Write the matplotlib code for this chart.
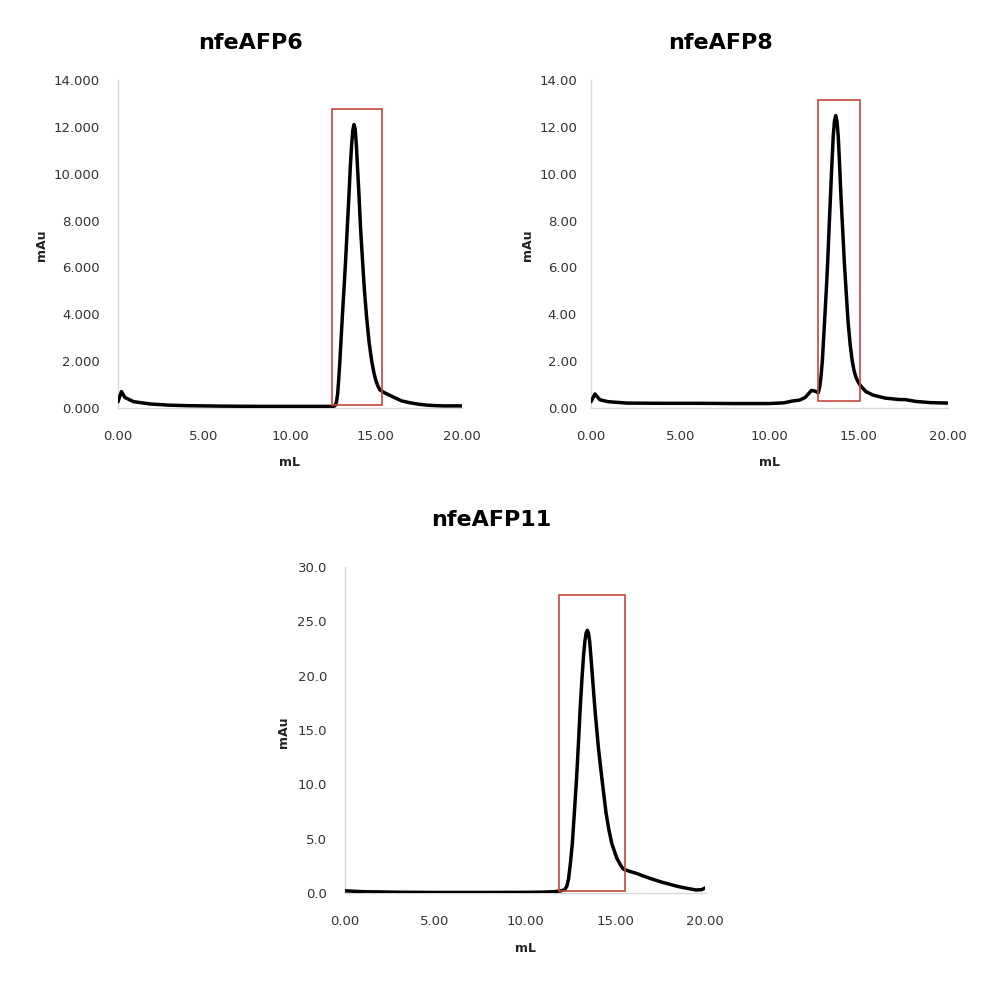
import matplotlib
matplotlib.use('Agg')
import matplotlib.pyplot as plt
from matplotlib.patches import Rectangle
from matplotlib.ticker import FormatStrFormatter

# nfeAFP6 trace (mL, mAu)
x6 = [0.0, 0.2, 0.4, 0.9, 1.9, 3.0, 4.0, 6.0, 8.0, 10.0, 12.0, 12.5, 12.62, 12.7, 12.77, 12.83,
      12.9, 13.05, 13.14, 13.23, 13.33, 13.43, 13.5, 13.58, 13.65, 13.72, 13.79, 13.86, 13.93,
      14.01, 14.1, 14.22, 14.33, 14.45, 14.6, 14.75, 14.88, 15.0, 15.12, 15.23, 15.5, 16.0,
      16.5, 17.0, 17.5, 18.0, 18.5, 19.0, 20.0]
y6 = [0.27, 0.70, 0.45, 0.27, 0.17, 0.12, 0.10, 0.08, 0.07, 0.07, 0.07, 0.07, 0.10, 0.25, 0.6, 1.2,
      2.0, 4.0, 5.1, 6.25, 7.7, 9.1, 10.2, 11.2, 11.85, 12.1, 11.9, 11.2, 10.2,
      9.1, 7.7, 6.25, 5.0, 3.9, 2.8, 2.0, 1.5, 1.15, 0.92, 0.77, 0.65, 0.47,
      0.3, 0.22, 0.16, 0.12, 0.1, 0.09, 0.09]

# nfeAFP8 trace
x8 = [0.0, 0.22, 0.5, 0.95, 2.0, 4.0, 6.0, 8.0, 10.0, 10.8, 11.3, 11.7, 12.0, 12.2, 12.35, 12.55,
      12.73, 12.8, 12.88, 12.96, 13.1, 13.18, 13.26, 13.34, 13.42, 13.5, 13.57, 13.64, 13.71,
      13.78, 13.85, 13.92, 14.0, 14.1, 14.19, 14.3, 14.4, 14.52, 14.64, 14.75, 14.85, 14.96,
      15.07, 15.4, 15.8, 16.5, 17.3, 17.6, 18.2, 19.0, 20.0]
y8 = [0.27, 0.60, 0.35, 0.27, 0.21, 0.2, 0.2, 0.19, 0.19, 0.22, 0.3, 0.34, 0.45, 0.62, 0.75, 0.72,
      0.65, 0.85, 1.3, 2.0, 3.9, 5.0, 6.25, 7.7, 9.1, 10.5, 11.6, 12.25, 12.48,
      12.25, 11.6, 10.5, 9.1, 7.6, 6.25, 4.9, 3.7, 2.7, 1.98, 1.55, 1.3, 1.12,
      0.98, 0.7, 0.55, 0.42, 0.36, 0.36, 0.28, 0.23, 0.21]

# nfeAFP11 trace
x11 = [0.0, 1.0, 3.0, 5.0, 8.0, 10.0, 11.0, 11.6, 12.0, 12.2, 12.32, 12.42, 12.52, 12.63, 12.75,
       12.87, 12.97, 13.06, 13.16, 13.25, 13.33, 13.4, 13.46, 13.52, 13.59, 13.66, 13.77, 13.89,
       14.07, 14.26, 14.5, 14.65, 14.82, 15.1, 15.3, 15.46, 15.8, 16.2, 16.6, 17.1, 17.6, 18.05,
       18.5, 19.0, 19.5, 19.8, 20.05]
y11 = [0.2, 0.12, 0.07, 0.05, 0.05, 0.06, 0.08, 0.12, 0.2, 0.3, 0.6, 1.3, 2.7, 4.57, 7.6,
       10.69, 13.8, 16.82, 19.6, 21.8, 23.2, 23.95, 24.17, 23.95, 23.2, 21.8, 19.4, 16.82,
       13.5, 10.69, 7.4, 5.9, 4.57, 3.2, 2.6, 2.2, 2.0, 1.8, 1.55, 1.26, 1.0, 0.8,
       0.6, 0.43, 0.28, 0.3, 0.49]

# collected fraction boxes: x0, x1, y0, y1
box6 = [12.44, 15.35, 0.13, 12.76]
box8 = [12.72, 15.07, 0.31, 13.13]
box11 = [11.89, 15.54, 0.21, 27.46]

titles = ['nfeAFP6', 'nfeAFP8', 'nfeAFP11']
y_max = [14, 14, 30]
y_step = [2, 2, 5]
y_fmt = ['%.3f', '%.2f', '%.1f']
x_ticks = [0, 5, 10, 15, 20]

W, H = 983, 996
fig = plt.figure(figsize=(W / 100, H / 100), dpi=100)

# axes boxes in pixels: left, top, right, bottom
rects = [(118, 80, 462, 408), (591, 80, 948, 408), (345, 567, 705, 893)]
ypads = [13, 10, 13]
title_pos = [(250, 43), (720, 43), (491, 520)]
xlab_pos = [(290, 462), (770, 462), (525, 948)]
ylab_pos = [(42, 245), (528, 245), (283, 732)]

grey = '#d9d9d9'
red = '#c8453d'

for i, (xs, ys, box) in enumerate([(x6, y6, box6), (x8, y8, box8), (x11, y11, box11)]):
    l, t, r, b = rects[i]
    ax = fig.add_axes([l / W, 1 - b / H, (r - l) / W, (b - t) / H])
    ax.plot(xs, ys, color='black', lw=2.5, solid_capstyle='round', solid_joinstyle='round', zorder=3)
    ax.add_patch(Rectangle((box[0], box[2]), box[1] - box[0], box[3] - box[2],
                           fill=False, edgecolor=red, lw=1.2, zorder=4))
    ax.set_xlim(0, 20)
    ax.set_ylim(0, y_max[i])
    ax.set_xticks(x_ticks)
    ax.set_yticks(range(0, y_max[i] + 1, y_step[i]))
    ax.xaxis.set_major_formatter(FormatStrFormatter('%.2f'))
    ax.yaxis.set_major_formatter(FormatStrFormatter(y_fmt[i]))
    for s in ['top', 'right']:
        ax.spines[s].set_visible(False)
    ax.spines['left'].set_color(grey)
    ax.spines['bottom'].set_color(grey)
    ax.spines['left'].set_linewidth(1.0)
    ax.spines['bottom'].set_linewidth(1.0)
    ax.tick_params(axis='x', length=0, pad=16, labelsize=9.5, labelcolor='#333333')
    ax.tick_params(axis='y', length=0, pad=ypads[i], labelsize=9.5, labelcolor='#333333')

    fig.text(title_pos[i][0] / W, 1 - title_pos[i][1] / H, titles[i], ha='center', va='center',
             fontsize=16, fontweight='bold')
    fig.text(xlab_pos[i][0] / W, 1 - xlab_pos[i][1] / H, 'mL', ha='center', va='center',
             fontsize=9, fontweight='bold', color='#222222')
    fig.text(ylab_pos[i][0] / W, 1 - ylab_pos[i][1] / H, 'mAu', ha='center', va='center',
             fontsize=9, fontweight='bold', rotation=90, color='#222222')

plt.savefig('out.png', dpi=100)
